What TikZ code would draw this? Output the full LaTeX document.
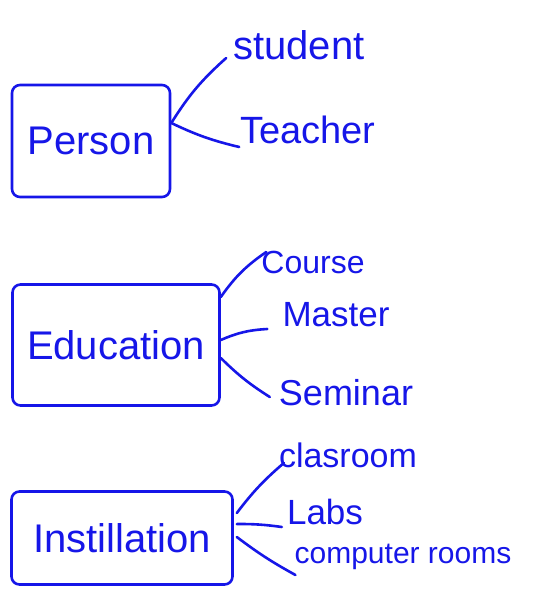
\documentclass[tikz,border=0pt]{standalone}
\usepackage{fontspec}
\setmainfont{Liberation Sans}
\definecolor{pen}{RGB}{22,22,232}
\begin{document}
\begin{tikzpicture}[x=1pt,y=-1pt,
  ink/.style={draw=pen,line width=2.6pt,line cap=round,line join=round},
  box/.style={ink,rounded corners=8pt,text=pen,font=\fontsize{40}{44}\selectfont,inner sep=0pt},
  item/.style={text=pen,inner sep=1pt},
  link/.style={ink}]
\useasboundingbox (0,0) rectangle (549,597);
% boxes
\node[box,minimum width=158pt,minimum height=112pt] (person) at (91,141) {Person};
\node[box,minimum width=207pt,minimum height=121pt] (edu) at (116,345) {Education};
\node[box,minimum width=221pt,minimum height=93pt] (inst) at (122,538) {Instillation};
% labels
\node[item,font=\fontsize{40}{44}\selectfont] (student) at (299,45) {student};
\node[item,font=\fontsize{38}{42}\selectfont] (teacher) at (308,130) {Teacher};
\node[item,font=\fontsize{32}{36}\selectfont] (course) at (313,262) {Course};
\node[item,font=\fontsize{35}{40}\selectfont] (master) at (336,315) {Master};
\node[item,font=\fontsize{36}{40}\selectfont] (seminar) at (346,393) {Seminar};
\node[item,font=\fontsize{34}{38}\selectfont] (clas) at (348,455) {clasroom};
\node[item,font=\fontsize{35}{40}\selectfont] (labs) at (325,512) {Labs};
\node[item,font=\fontsize{30}{34}\selectfont] (computer) at (403,557) {computer rooms};
% junction points on the boxes
\coordinate (pj) at ([yshift=18pt]person.east);
\coordinate (ej1) at ([yshift=48pt]edu.east);
\coordinate (ej2) at ([yshift=5pt]edu.east);
\coordinate (ej3) at ([yshift=-13pt]edu.east);
\coordinate (ij1) at ([yshift=25pt,xshift=3pt]inst.east);
\coordinate (ij2) at ([yshift=14pt,xshift=3pt]inst.east);
\coordinate (ij3) at ([yshift=1pt,xshift=3pt]inst.east);
% connectors
\draw[link] (pj) to[bend left=8] ([xshift=-6pt,yshift=-13pt]student.west);
\draw[link] (pj) to[bend right=6] ([yshift=-17pt]teacher.west);
\draw[link] (ej1) to[bend left=10] ([xshift=6pt,yshift=10pt]course.west);
\draw[link] (ej2) to[bend left=10] ([xshift=-14pt,yshift=-14pt]master.west);
\draw[link] (ej3) to[bend right=6] ([xshift=-8pt,yshift=-4pt]seminar.west);
\draw[link] (ij1) to[bend left=6] ([xshift=6pt,yshift=-8pt]clas.west);
\draw[link] (ij2) to[bend left=4] ([xshift=-4pt,yshift=-15pt]labs.west);
\draw[link] (ij3) to[bend right=4] ([xshift=2pt,yshift=-18pt]computer.west);
\end{tikzpicture}
\end{document}
